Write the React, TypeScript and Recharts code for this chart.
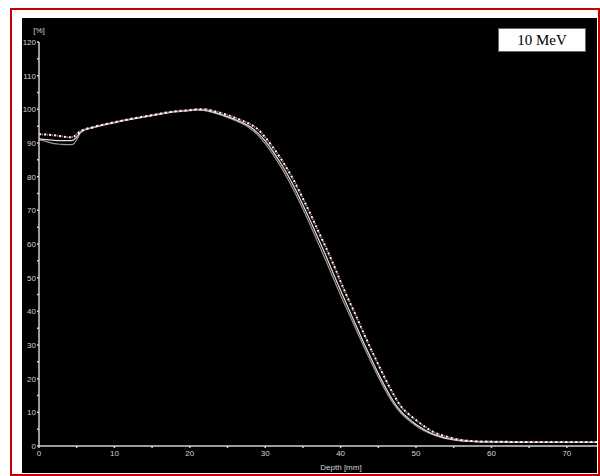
import { LineChart, Line, XAxis, YAxis } from 'recharts';

// depth positions [mm]
const depths = [0, 1, 2, 3, 4, 4.5, 5, 5.5, 6, 7, 8, 9, 10, 12, 14, 16, 18, 20,
  21, 22, 23, 24, 25, 26, 27, 28, 29, 30, 31, 32, 33, 34, 35, 36, 37, 38, 39, 40,
  41, 42, 43, 44, 45, 46, 47, 48, 49, 50, 51, 52, 53, 54, 55, 56, 58, 60, 65, 70, 74];

// dotted curve (measured)
const measured = [92.6, 92.5, 92.3, 92.0, 91.7, 91.8, 92.6, 93.5, 94.0, 94.6, 95.2, 95.7, 96.2, 97.1, 97.9, 98.7, 99.4, 99.8,
  100, 100, 99.6, 99.0, 98.3, 97.5, 96.6, 95.6, 94.1, 91.7,
  88.8, 85.6, 82.0, 78.0, 73.5, 68.9, 64.0, 59.2, 54.2, 48.8,
  43.7, 38.9, 33.8, 28.9, 24.2, 19.6, 15.4, 11.8, 9.5, 7.7,
  6.0, 4.5, 3.5, 2.8, 2.2, 1.8, 1.4, 1.3, 1.2, 1.2, 1.2];

// upper solid curve
const calcA = [91.2, 91.0, 90.8, 90.7, 90.7, 90.8, 91.8, 93.2, 93.9, 94.5, 95.1, 95.6, 96.1, 97.0, 97.8, 98.6, 99.3, 99.7,
  99.9, 99.8, 99.3, 98.6, 97.8, 97.0, 96.0, 94.8, 93.0, 90.6,
  87.6, 84.2, 80.4, 76.2, 71.6, 66.8, 61.8, 56.7, 51.4, 46.2,
  41.1, 36.0, 31.0, 26.2, 21.5, 17.2, 13.3, 10.3, 8.2, 6.4,
  5.0, 3.8, 3.0, 2.3, 1.9, 1.6, 1.3, 1.2, 1.1, 1.1, 1.1];

// lower solid curve
const calcB = [91.0, 90.4, 89.8, 89.6, 89.5, 89.6, 91.0, 93.0, 93.8, 94.4, 95.0, 95.5, 96.0, 96.9, 97.7, 98.5, 99.2, 99.6,
  99.8, 99.6, 99.1, 98.4, 97.6, 96.7, 95.7, 94.3, 92.4, 89.8,
  86.7, 83.2, 79.3, 75.0, 70.4, 65.5, 60.4, 55.3, 50.0, 44.8,
  39.8, 34.8, 29.9, 25.1, 20.5, 16.3, 12.6, 9.8, 7.7, 6.0,
  4.6, 3.6, 2.8, 2.2, 1.8, 1.5, 1.3, 1.2, 1.1, 1.1, 1.1];

const xTicks = [0, 5, 10, 15, 20, 25, 30, 35, 40, 45, 50, 55, 60, 65, 70];
const yTicks = [0, 5, 10, 15, 20, 25, 30, 35, 40, 45, 50, 55, 60, 65, 70, 75, 80, 85, 90, 95, 100, 105, 110, 115, 120];

const data = depths.map((d, i) => ({
  depth: d,
  measured: measured[i],
  calcA: calcA[i],
  calcB: calcB[i],
}));

const axisColor = '#d0d0d0';
const textColor = '#d4d4d4';
const font = 'Liberation Sans, Arial, sans-serif';
const tickStyle = { fill: textColor, fontSize: 8, fontFamily: font };
const majorOnly = (v: number) => (v % 10 === 0 ? String(v) : '');

const PercentLabel = (props: any) => {
  const vb = props.viewBox || {};
  return (
    <text x={vb.x + vb.width} y={vb.y - 9} textAnchor="middle" fill={textColor} fontSize={8} fontFamily={font}>
      [%]
    </text>
  );
};

export default function App() {
  return (
    <div style={{ position: 'absolute', left: 0, top: 0, width: 600, height: 476, background: '#fff', overflow: 'hidden' }}>
      <div style={{ position: 'absolute', left: 10, top: 8, width: 590, height: 468, boxSizing: 'border-box', border: '2px solid #c40000' }} />
      <div style={{ position: 'absolute', left: 22, top: 18, width: 575, height: 455, background: '#000' }}>
        <LineChart width={575} height={455} data={data} margin={{ top: 24, right: 0, bottom: 0, left: 0 }}>
          <XAxis
            dataKey="depth"
            type="number"
            domain={[0, 74]}
            ticks={xTicks}
            tickFormatter={majorOnly}
            height={27}
            stroke={axisColor}
            strokeWidth={1.5}
            tickSize={2}
            tickMargin={2}
            tick={tickStyle}
            interval={0}
            label={{ value: 'Depth [mm]', position: 'insideBottom', offset: 3, dx: 23, fill: textColor, fontSize: 8, fontFamily: font }}
          />
          <YAxis
            type="number"
            domain={[0, 120]}
            ticks={yTicks}
            tickFormatter={majorOnly}
            width={17}
            stroke={axisColor}
            strokeWidth={1.5}
            tickSize={2}
            tickMargin={1}
            tick={tickStyle}
            interval={0}
            label={<PercentLabel />}
          />
          <Line type="monotone" dataKey="calcB" stroke="#9a9a86" strokeWidth={1.2} dot={false} isAnimationActive={false} />
          <Line type="monotone" dataKey="calcA" stroke="#e0e0e0" strokeWidth={1.2} dot={false} isAnimationActive={false} />
          <Line type="monotone" dataKey="measured" stroke="#b0606e" strokeWidth={2} strokeDasharray="0 2.5 1.5 1" dot={false} isAnimationActive={false} />
          <Line type="monotone" dataKey="measured" stroke="#ffffff" strokeWidth={2} strokeDasharray="2 3" dot={false} isAnimationActive={false} />
        </LineChart>
      </div>
      <div style={{ position: 'absolute', left: 498, top: 28, width: 88, height: 24, boxSizing: 'border-box', background: '#fff', border: '1px solid #666', fontFamily: 'Liberation Serif, DejaVu Serif, serif', fontSize: 15, lineHeight: '22px', textAlign: 'center', color: '#000' }}>
        10 MeV
      </div>
    </div>
  );
}
